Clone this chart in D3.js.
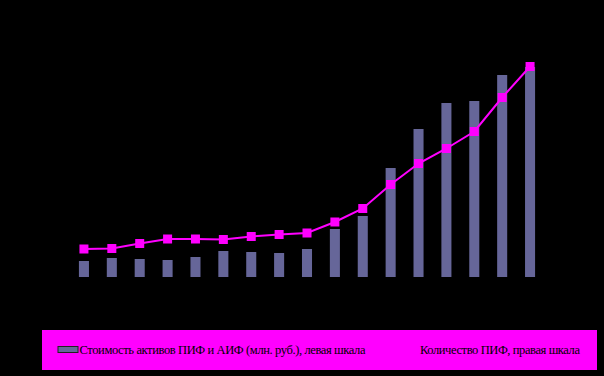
<!DOCTYPE html>
<html>
<head>
<meta charset="utf-8">
<script src="https://cdn.jsdelivr.net/npm/d3@7"></script>
<style>
  body { margin: 0; background: #000; }
  svg { display: block; }
</style>
</head>
<body>
<div id="chart"></div>
<script>
// periods (axis labels are not shown in the picture)
var periods = ["1", "2", "3", "4", "5", "6", "7", "8", "9", "10", "11", "12", "13", "14", "15", "16", "17"];

// assets of mutual and joint-stock funds, mln rub (left scale)
var assets = [8000, 9500, 9000, 8500, 10000, 13000, 12500, 12000, 14000, 24000, 30500, 54500, 74000, 87000, 88000, 101000, 105000];

// number of mutual funds (right scale)
var fundCount = [56, 57, 67, 76, 76, 75, 81, 85, 88, 110, 137, 185, 227, 257, 291, 359, 421];

var barLabel = "Стоимость активов ПИФ и АИФ (млн. руб.), левая шкала";
var lineLabel = "Количество ПИФ, правая шкала";

var width = 604,
    height = 376;

var svg = d3.select("#chart").append("svg")
    .attr("width", width)
    .attr("height", height);

svg.append("rect")
    .attr("width", width)
    .attr("height", height)
    .attr("fill", "#000");

// scales
var x = d3.scaleBand()
    .domain(periods)
    .range([70, 544])
    .paddingInner(0.64)
    .paddingOuter(0.32);

var yLeft = d3.scaleLinear()
    .domain([0, 110000])
    .range([277, 57]);

var yRight = d3.scaleLinear()
    .domain([0, 440])
    .range([277, 57]);

// bars
svg.selectAll(".bar")
    .data(assets).enter()
    .append("rect")
    .attr("class", "bar")
    .attr("x", (d, i) => x(periods[i]))
    .attr("y", d => yLeft(d))
    .attr("width", x.bandwidth())
    .attr("height", d => yLeft(0) - yLeft(d))
    .attr("fill", "#666699");

// line
var line = d3.line()
    .x((d, i) => x(periods[i]) + x.bandwidth() / 2)
    .y(d => yRight(d));

svg.append("path")
    .datum(fundCount)
    .attr("d", line)
    .attr("fill", "none")
    .attr("stroke", "#ff00ff")
    .attr("stroke-width", 2);

// square markers
var ms = 9;
svg.selectAll(".marker")
    .data(fundCount).enter()
    .append("rect")
    .attr("class", "marker")
    .attr("x", (d, i) => x(periods[i]) + x.bandwidth() / 2 - ms / 2)
    .attr("y", d => yRight(d) - ms / 2)
    .attr("width", ms)
    .attr("height", ms)
    .attr("fill", "#ff00ff");

// legend
var legend = svg.append("g");

legend.append("rect")
    .attr("x", 42)
    .attr("y", 330)
    .attr("width", 555)
    .attr("height", 40)
    .attr("fill", "#ff00ff");

legend.append("rect")
    .attr("x", 58)
    .attr("y", 346.5)
    .attr("width", 20)
    .attr("height", 6)
    .attr("fill", "#666699")
    .attr("stroke", "#222")
    .attr("stroke-width", 1);

legend.append("text")
    .attr("x", 79.5)
    .attr("y", 353.5)
    .attr("font-family", "Liberation Serif, serif")
    .attr("font-size", 12.5)
    .attr("textLength", 286)
    .attr("lengthAdjust", "spacing")
    .attr("fill", "#000")
    .text(barLabel);

legend.append("line")
    .attr("x1", 400)
    .attr("x2", 418)
    .attr("y1", 350)
    .attr("y2", 350)
    .attr("stroke", "#ff00ff")
    .attr("stroke-width", 2);

legend.append("text")
    .attr("x", 420)
    .attr("y", 353.5)
    .attr("font-family", "Liberation Serif, serif")
    .attr("font-size", 12.5)
    .attr("textLength", 160)
    .attr("lengthAdjust", "spacing")
    .attr("fill", "#000")
    .text(lineLabel);
</script>
</body>
</html>
